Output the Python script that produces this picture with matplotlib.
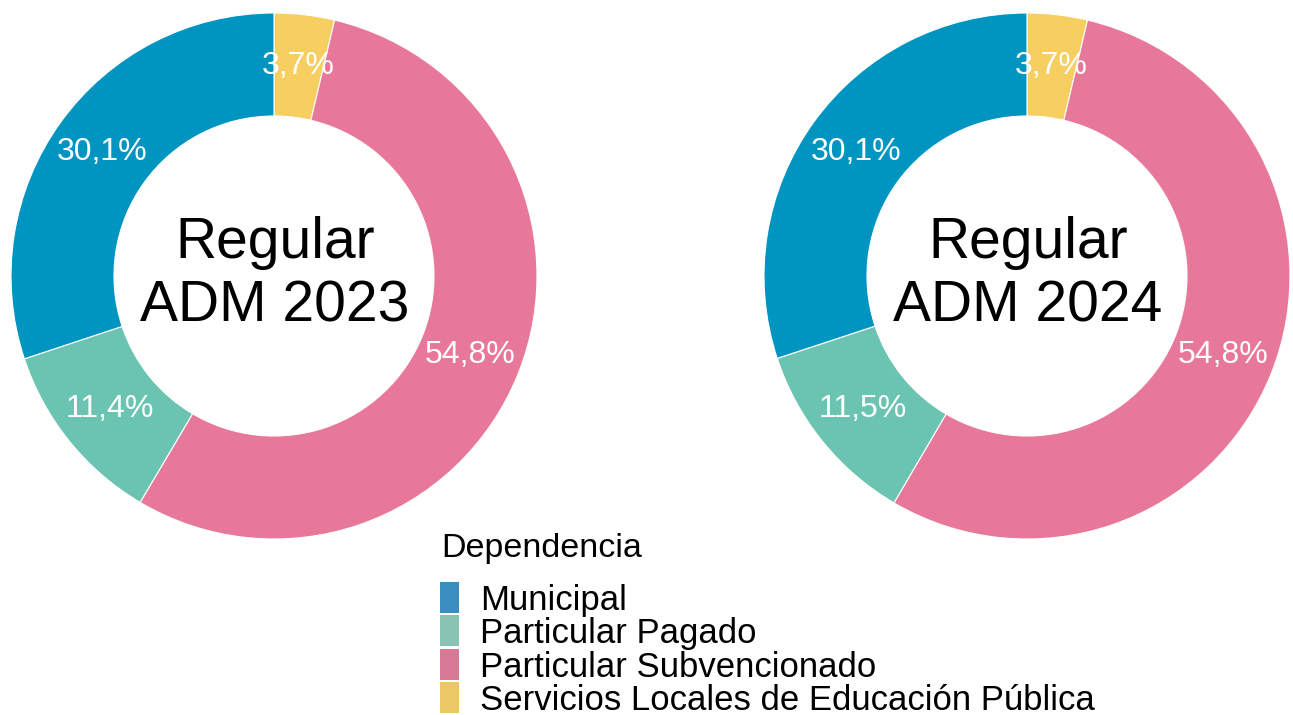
import matplotlib
matplotlib.use("Agg")
import matplotlib.pyplot as plt
from matplotlib.patches import Rectangle
import numpy as np

plt.rcParams['font.family'] = ['Liberation Sans', 'DejaVu Sans']

categorias = ["Municipal", "Particular Pagado", "Particular Subvencionado",
              "Servicios Locales de Educación Pública"]
valores_2023 = [30.1, 11.4, 54.8, 3.7]
valores_2024 = [30.1, 11.5, 54.8, 3.7]
titulos = ["Regular\nADM 2023", "Regular\nADM 2024"]

colores = ["#0095C0", "#6BC4B1", "#E87899", "#F6CF60"]
colores_leyenda = ["#3A8DBF", "#88C4B1", "#D87996", "#EBC864"]

W, H = 1293, 715
fig = plt.figure(figsize=(W / 100, H / 100), dpi=100)
ax = fig.add_axes([0, 0, 1, 1])

R_OUT, R_IN = 263, 160
centros = [(274, H - 276), (1027, H - 276)]

for vals, titulo, (cx, cy) in zip([valores_2023, valores_2024], titulos, centros):
    # ggplot order: last category starts at 12 o'clock, going clockwise
    orden = list(reversed(range(len(vals))))
    wedges, _ = ax.pie([vals[i] for i in orden], colors=[colores[i] for i in orden],
                       startangle=90, counterclock=False, radius=R_OUT, center=(cx, cy),
                       wedgeprops=dict(width=R_OUT - R_IN, edgecolor='white', linewidth=0.8),
                       frame=True)
    for w, i in zip(wedges, orden):
        ang = np.deg2rad((w.theta1 + w.theta2) / 2)
        rm = (R_OUT + R_IN) / 2
        ax.text(cx + rm * np.cos(ang), cy + rm * np.sin(ang),
                f"{vals[i]:.1f}%".replace('.', ','), color='white',
                fontsize=23, ha='center', va='center')
    ax.text(cx + 1, cy + 1, titulo, fontsize=41, ha='center', va='center',
            linespacing=1.22)

ax.set_xlim(0, W)
ax.set_ylim(0, H)
ax.set_aspect('equal')
ax.axis('off')

# legend
ax.text(441, H - 557, "Dependencia", fontsize=24.5, ha='left', va='baseline')
for k, (cat, col) in enumerate(zip(categorias, colores_leyenda)):
    yc = 597 + 33.5 * k
    ax.add_patch(Rectangle((440, H - yc - 15.5), 19, 31, color=col, lw=0))
    ax.text(480, H - yc - 13, cat, fontsize=25, ha='left', va='baseline')

fig.savefig("out.png", dpi=100)
